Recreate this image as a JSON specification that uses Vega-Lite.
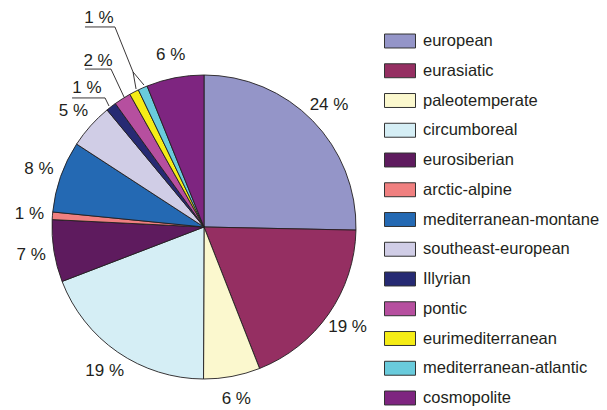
{
  "$schema": "https://vega.github.io/schema/vega-lite/v6.json",
  "width": 607,
  "height": 410,
  "autosize": {"type": "none"},
  "padding": 0,
  "config": {
    "view": {"stroke": null},
    "font": "Liberation Sans"
  },
  "datasets": {
    "slices": [
      {"idx": 1, "category": "european", "value": 25.3, "label": "24 %"},
      {"idx": 2, "category": "eurasiatic", "value": 18.7, "label": "19 %"},
      {"idx": 3, "category": "paleotemperate", "value": 6.0, "label": "6 %"},
      {"idx": 4, "category": "circumboreal", "value": 19.1, "label": "19 %"},
      {"idx": 5, "category": "eurosiberian", "value": 6.6, "label": "7 %"},
      {"idx": 6, "category": "arctic-alpine", "value": 0.8, "label": "1 %"},
      {"idx": 7, "category": "mediterranean-montane", "value": 7.6, "label": "8 %"},
      {"idx": 8, "category": "southeast-european", "value": 4.8, "label": "5 %"},
      {"idx": 9, "category": "Illyrian", "value": 1.1, "label": "1 %"},
      {"idx": 10, "category": "pontic", "value": 1.8, "label": "2 %"},
      {"idx": 11, "category": "eurimediterranean", "value": 1.0, "label": "1 %"},
      {"idx": 12, "category": "mediterranean-atlantic", "value": 1.0, "label": "1 %"},
      {"idx": 13, "category": "cosmopolite", "value": 6.1, "label": "6 %"}
    ],
    "leaderLines": [
      {"path": "a", "seq": 1, "x": -0.868, "y": 0.849},
      {"path": "a", "seq": 2, "x": -0.651, "y": 0.849},
      {"path": "a", "seq": 3, "x": -0.625, "y": 0.796},
      {"path": "b", "seq": 1, "x": -0.783, "y": 1.039},
      {"path": "b", "seq": 2, "x": -0.612, "y": 1.039},
      {"path": "b", "seq": 3, "x": -0.526, "y": 0.855},
      {"path": "c", "seq": 1, "x": -0.783, "y": 1.316},
      {"path": "c", "seq": 2, "x": -0.586, "y": 1.316},
      {"path": "c", "seq": 3, "x": -0.467, "y": 1.020},
      {"path": "c", "seq": 4, "x": -0.447, "y": 0.908},
      {"path": "d", "seq": 1, "x": -0.467, "y": 1.020},
      {"path": "d", "seq": 2, "x": -0.395, "y": 0.934}
    ],
    "leaderLabels": [
      {"x": -0.770, "y": 0.914, "label": "1 %"},
      {"x": -0.697, "y": 1.092, "label": "2 %"},
      {"x": -0.691, "y": 1.375, "label": "1 %"}
    ]
  },
  "resolve": {"scale": {"x": "shared", "y": "shared"}},
  "layer": [
    {
      "data": {"name": "slices"},
      "mark": {"type": "arc", "outerRadius": 152, "stroke": "#231f20", "strokeWidth": 0.9},
      "encoding": {
        "x": {"datum": 0, "type": "quantitative", "scale": {"domain": [-1.3421, 2.6513], "nice": false, "zero": false}, "axis": null},
        "y": {"datum": 0, "type": "quantitative", "scale": {"domain": [-1.2039, 1.4934], "nice": false, "zero": false}, "axis": null},
        "theta": {"field": "value", "type": "quantitative", "stack": true},
        "order": {"field": "idx", "type": "quantitative"},
        "color": {
          "field": "category",
          "type": "nominal",
          "scale": {
            "domain": ["european", "eurasiatic", "paleotemperate", "circumboreal", "eurosiberian", "arctic-alpine", "mediterranean-montane", "southeast-european", "Illyrian", "pontic", "eurimediterranean", "mediterranean-atlantic", "cosmopolite"],
            "range": ["#9495c8", "#952f62", "#fbf8ce", "#d5eef5", "#5e1b5e", "#f08080", "#2469b3", "#d0cde6", "#262a73", "#b64f9f", "#f5ec16", "#69cbdc", "#7e2580"]
          },
          "legend": {
            "title": null,
            "orient": "none",
            "legendX": 384,
            "legendY": 25,
            "padding": 0,
            "symbolType": "M-1,-0.45H1V0.45H-1Z",
            "symbolSize": 961,
            "symbolStrokeColor": "#333333",
            "symbolStrokeWidth": 1,
            "symbolOpacity": 1,
            "labelFontSize": 16.5,
            "labelFont": "Liberation Sans",
            "labelColor": "#231f20",
            "labelOffset": 7,
            "labelLimit": 300,
            "rowPadding": 4.75
          }
        }
      }
    },
    {
      "data": {"name": "slices"},
      "mark": {"type": "text", "radius": 175, "fontSize": 17, "color": "#231f20"},
      "encoding": {
        "x": {"datum": 0, "type": "quantitative"},
        "y": {"datum": 0, "type": "quantitative"},
        "theta": {"field": "value", "type": "quantitative", "stack": true},
        "order": {"field": "idx", "type": "quantitative"},
        "text": {
          "condition": {"test": "indexof(['Illyrian','pontic','eurimediterranean','mediterranean-atlantic'], datum.category) >= 0", "value": ""},
          "field": "label"
        }
      }
    },
    {
      "data": {"name": "leaderLines"},
      "mark": {"type": "line", "color": "#231f20", "strokeWidth": 0.9},
      "encoding": {
        "x": {"field": "x", "type": "quantitative"},
        "y": {"field": "y", "type": "quantitative"},
        "detail": {"field": "path"},
        "order": {"field": "seq", "type": "quantitative"}
      }
    },
    {
      "data": {"name": "leaderLabels"},
      "mark": {"type": "text", "fontSize": 17, "color": "#231f20"},
      "encoding": {
        "x": {"field": "x", "type": "quantitative"},
        "y": {"field": "y", "type": "quantitative"},
        "text": {"field": "label"}
      }
    }
  ]
}
